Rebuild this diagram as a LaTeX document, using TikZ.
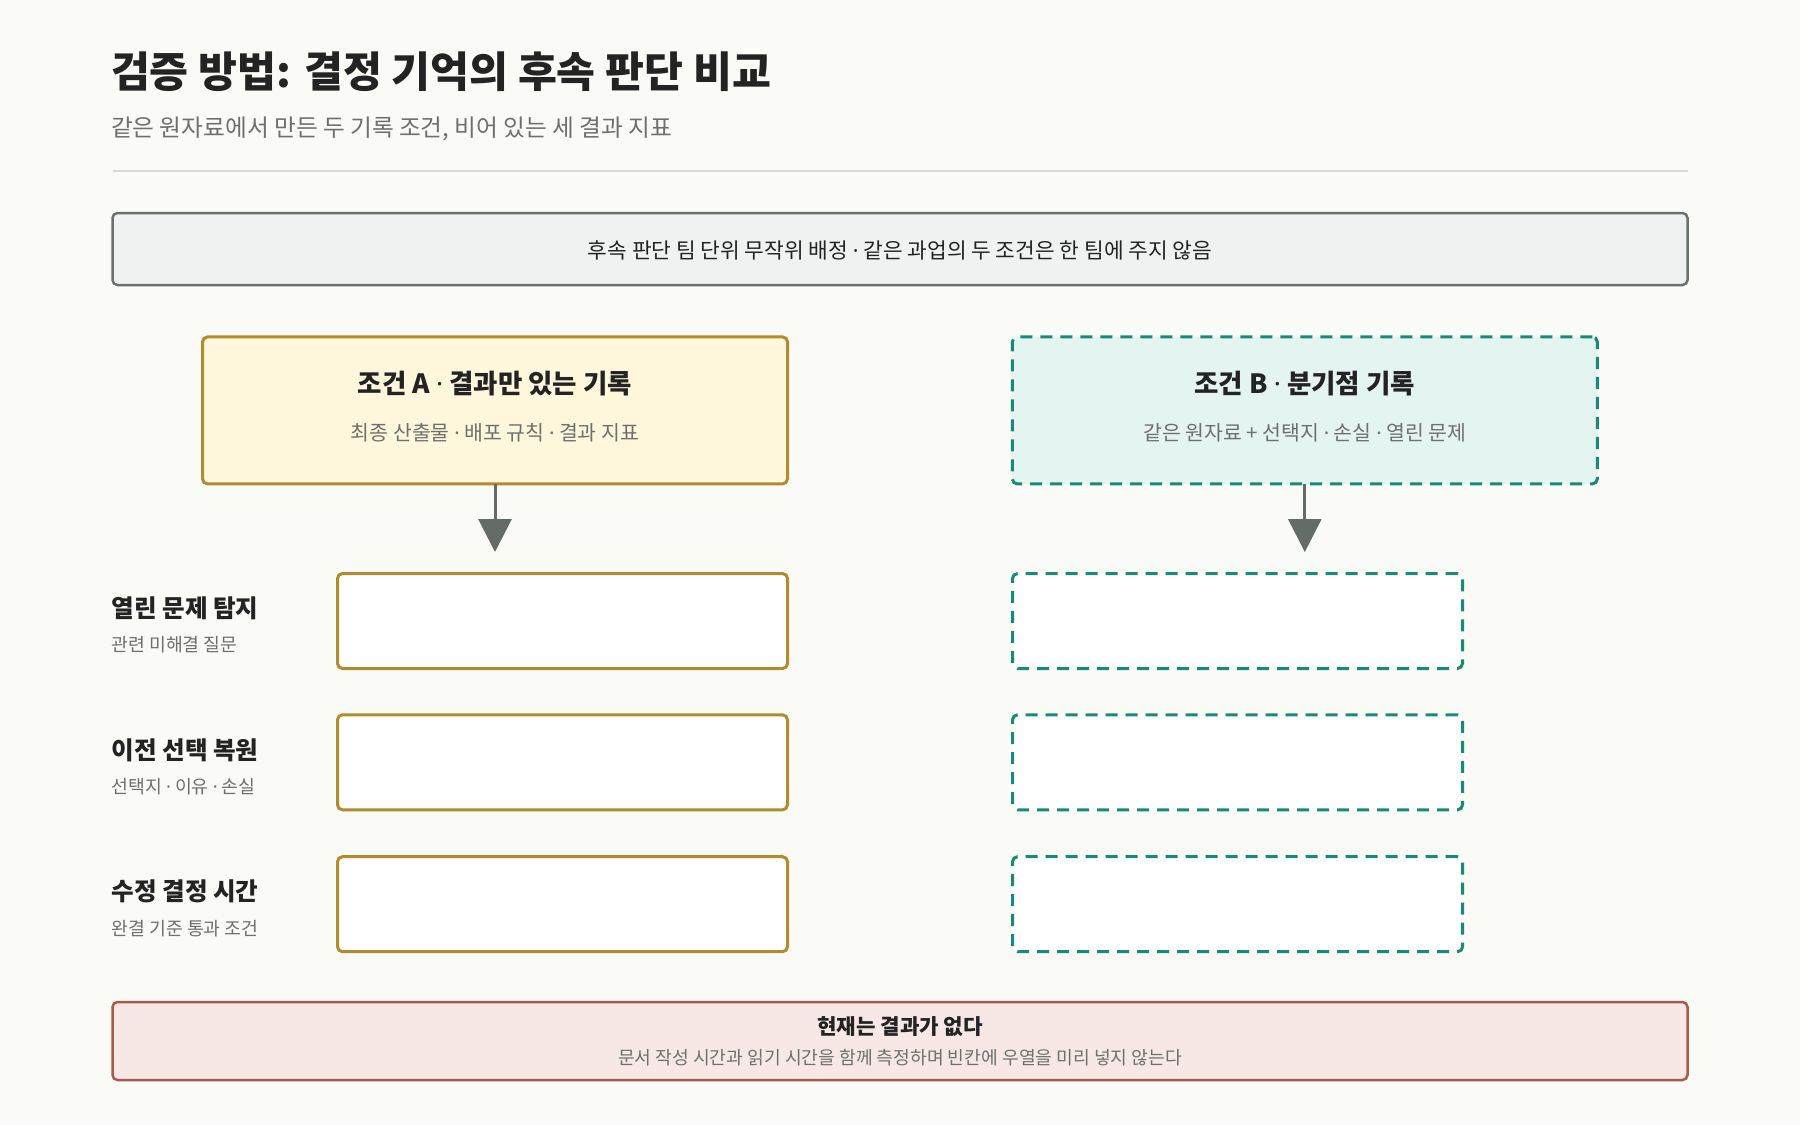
\documentclass[tikz,border=0pt]{standalone}
\usepackage{fontspec}
\setmainfont{Noto Sans CJK KR}
\newfontfamily\dotfont{Noto Sans}
\usetikzlibrary{arrows.meta}
\definecolor{bgc}{HTML}{FAFAF6}
\definecolor{inkc}{HTML}{232323}
\definecolor{grayc}{HTML}{6E706E}
\definecolor{rulec}{HTML}{D9DAD6}
\definecolor{topfill}{HTML}{F0F2F1}
\definecolor{topdraw}{HTML}{6B716E}
\definecolor{afill}{HTML}{FFF7DC}
\definecolor{adraw}{HTML}{B08C2F}
\definecolor{bfill}{HTML}{E4F4F0}
\definecolor{bdraw}{HTML}{1A8A78}
\definecolor{arrowc}{HTML}{646C68}
\definecolor{rfill}{HTML}{F7E8E5}
\definecolor{rdraw}{HTML}{AA5A4B}
\newcommand\myfs[1]{\fontsize{#1}{#1}\selectfont}
\newcommand\mdot{{\dotfont ·}}
\begin{document}
\begin{tikzpicture}[x=1pt,y=-1pt,
  every node/.style={inner sep=0pt, outer sep=0pt},
  condA/.style={draw=adraw, fill=afill, line width=3pt, rounded corners=5pt, minimum width=585pt, minimum height=147pt},
  condB/.style={draw=bdraw, fill=bfill, line width=3pt, rounded corners=5pt, minimum width=585pt, minimum height=147pt, dash pattern=on 12pt off 8pt},
  cellA/.style={draw=adraw, fill=white, line width=3pt, rounded corners=5pt, minimum width=450pt, minimum height=95pt},
  cellB/.style={draw=bdraw, fill=white, line width=3pt, rounded corners=5pt, minimum width=450pt, minimum height=95pt, dash pattern=on 12pt off 8pt},
  headtxt/.style={text=inkc, font=\myfs{26.5}\bfseries},
  subtxt/.style={text=grayc, font=\myfs{20.5}},
  rowlab/.style={anchor=west, text=inkc, font=\myfs{24.6}\bfseries},
  rowsub/.style={anchor=west, text=grayc, font=\myfs{18.3}},
  flow/.style={draw=arrowc, line width=3pt, -{Triangle[width=33pt,length=33pt]}}
]
\useasboundingbox (0,0) rectangle (1800,1125);
\fill[bgc] (0,0) rectangle (1800,1125);

% header
\node[anchor=west, text=inkc, font=\myfs{42.3}\bfseries] (title) at (111,72) {검증 방법: 결정 기억의 후속 판단 비교};
\node[anchor=west, text=grayc, font=\myfs{23.7}] (subtitle) at (111,129) {같은 원자료에서 만든 두 기록 조건, 비어 있는 세 결과 지표};
\coordinate (ruleL) at (112.5,170.7);
\coordinate (ruleR) at (1687.5,170.7);
\draw[rulec, line width=2pt] (ruleL) -- (ruleR);

% assignment banner
\node[draw=topdraw, fill=topfill, line width=2.5pt, rounded corners=5pt, minimum width=1575pt, minimum height=72pt] (assign) at (900,249) {};
\node[text=inkc, font=\myfs{21.4}] (assigntxt) at (900,250) {후속 판단 팀 단위 무작위 배정 \mdot{} 같은 과업의 두 조건은 한 팀에 주지 않음};

% condition A
\node[condA] (A) at (495,410.4) {};
\node[headtxt] (Atitle) at (495,384) {조건 A \mdot{} 결과만 있는 기록};
\node[subtxt] (Asub) at (495,433) {최종 산출물 \mdot{} 배포 규칙 \mdot{} 결과 지표};

% condition B
\node[condB] (B) at (1304.8,410.4) {};
\node[headtxt] (Btitle) at (1304.8,384) {조건 B \mdot{} 분기점 기록};
\node[subtxt] (Bsub) at (1304.8,433) {같은 원자료 + 선택지 \mdot{} 손실 \mdot{} 열린 문제};

% arrows
\coordinate (Atip) at (495,552);
\coordinate (Btip) at (1304.8,552);
\draw[flow] (A.south) -- (Atip);
\draw[flow] (B.south) -- (Btip);

% rows
\node[cellA] (a1) at (562.5,621) {};
\node[cellA] (a2) at (562.5,762.3) {};
\node[cellA] (a3) at (562.5,904.2) {};
\node[cellB] (b1) at (1237.5,621) {};
\node[cellB] (b2) at (1237.5,762.3) {};
\node[cellB] (b3) at (1237.5,904.2) {};

\node[rowlab] (l1) at (111.5,608) {열린 문제 탐지};
\node[rowsub] (s1) at (111.5,645) {관련 미해결 질문};
\node[rowlab] (l2) at (111.5,750) {이전 선택 복원};
\node[rowsub] (s2) at (111.5,787) {선택지 \mdot{} 이유 \mdot{} 손실};
\node[rowlab] (l3) at (111.5,891) {수정 결정 시간};
\node[rowsub] (s3) at (111.5,929) {완결 기준 통과 조건};

% result banner
\node[draw=rdraw, fill=rfill, line width=2.5pt, rounded corners=5pt, minimum width=1575pt, minimum height=78pt] (result) at (900,1041) {};
\node[text=inkc, font=\myfs{21.2}\bfseries] (restitle) at (900,1027) {현재는 결과가 없다};
\node[text=grayc, font=\myfs{18.2}] (ressub) at (900,1058) {문서 작성 시간과 읽기 시간을 함께 측정하며 빈칸에 우열을 미리 넣지 않는다};
\end{tikzpicture}
\end{document}
